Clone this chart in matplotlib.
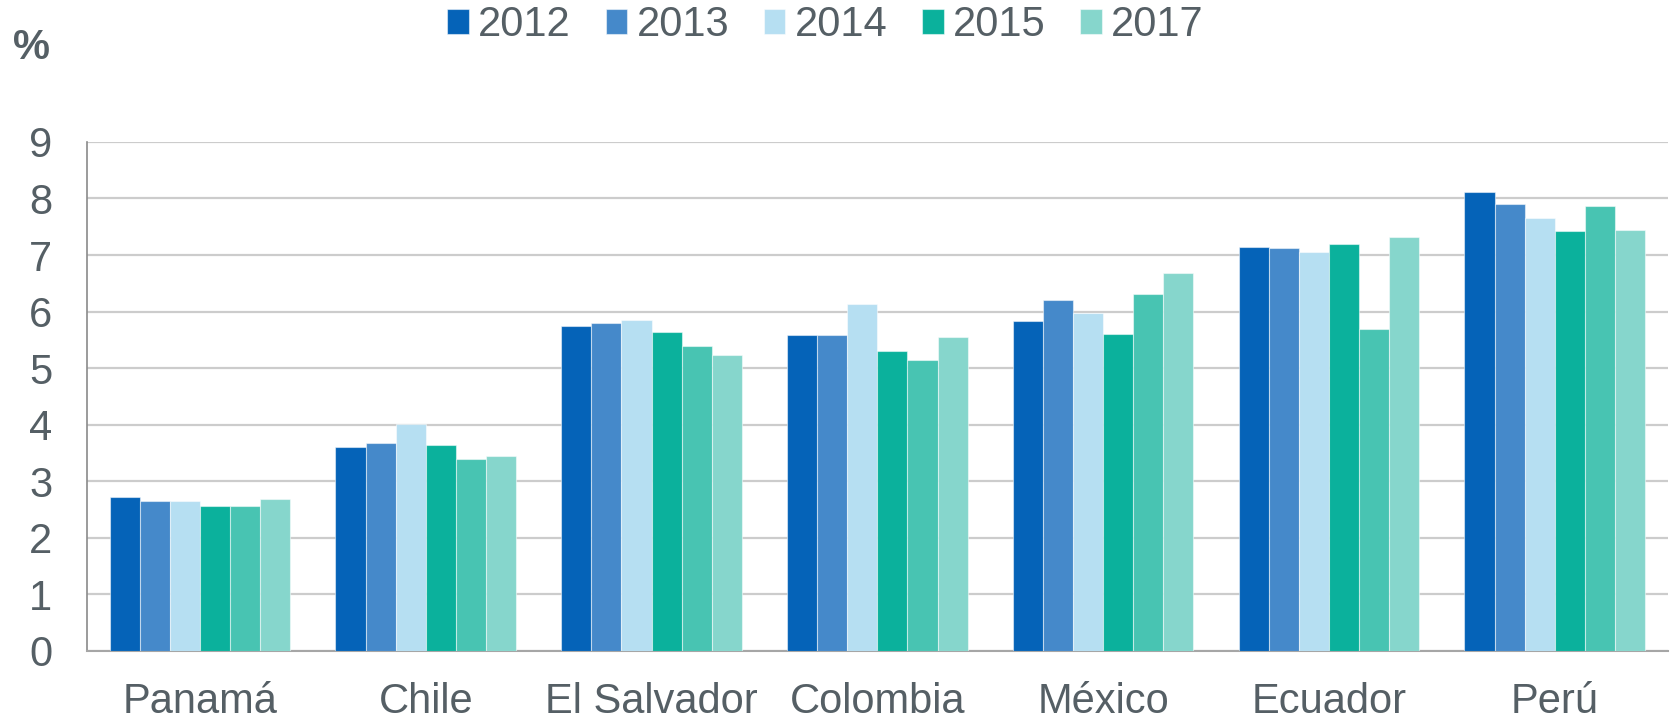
import numpy as np
import matplotlib.pyplot as plt

# data
countries = ['Panamá', 'Chile', 'El Salvador', 'Colombia', 'México', 'Ecuador', 'Perú']
v2012 = [2.72, 3.61, 5.75, 5.58, 5.84, 7.15, 8.11]
v2013 = [2.66, 3.68, 5.79, 5.58, 6.21, 7.12, 7.91]
v2014 = [2.65, 4.02, 5.85, 6.13, 5.97, 7.06, 7.66]
v2015 = [2.57, 3.65, 5.64, 5.30, 5.61, 7.19, 7.42]
v2016 = [2.57, 3.39, 5.39, 5.14, 6.31, 5.70, 7.87]
v2017 = [2.69, 3.44, 5.24, 5.55, 6.69, 7.32, 7.44]

series = [v2012, v2013, v2014, v2015, v2016, v2017]
labels = ['2012', '2013', '2014', '2015', None, '2017']
colors = ['#0563B8', '#4589CA', '#B6DFF2', '#0BB19C', '#48C4B2', '#86D6CC']

txt = '#555F65'
plt.rcParams['font.family'] = ['Liberation Sans', 'DejaVu Sans']

fig = plt.figure(figsize=(16.71, 7.21), dpi=100)
ax = fig.add_axes([0.0521, 0.0971, 0.9459, 0.7061])

x = np.arange(len(countries))
w = 0.8 / len(series)
for j, (vals, col) in enumerate(zip(series, colors)):
    b = ax.bar(x + (j - 2.5) * w, vals, w, color=col, edgecolor='#ffffff80',
               linewidth=0.8, zorder=3)
    if labels[j] is not None:
        b.set_label(labels[j])

ax.set_xlim(-0.5, len(countries) - 0.5)
ax.set_ylim(0, 9)
ax.set_yticks(range(10))
ax.set_xticks(x)
ax.set_xticklabels(countries)
ax.tick_params(axis='both', length=0, labelsize=30, labelcolor=txt)
ax.tick_params(axis='y', pad=25)
ax.tick_params(axis='x', pad=22)

ax.yaxis.grid(True, color='#CCCCCC', linewidth=1.6, zorder=0)
ax.set_axisbelow(True)
for s in ['top', 'right']:
    ax.spines[s].set_visible(False)
ax.spines['left'].set_color('#8A8A8A')
ax.spines['left'].set_linewidth(1.2)
ax.spines['bottom'].set_color('#A6A6A6')
ax.spines['bottom'].set_linewidth(1.5)

fig.text(0.008, 0.934, '%', fontsize=30, fontweight='bold', color=txt, va='center')

leg = fig.legend(loc='center', bbox_to_anchor=(0.494, 0.965), ncol=5, frameon=False,
                 fontsize=30, handlelength=0.52, handleheight=0.52, handletextpad=0.22,
                 columnspacing=0.83, borderpad=0, borderaxespad=0)
for t in leg.get_texts():
    t.set_color(txt)

fig.savefig('out.png', dpi=100)
